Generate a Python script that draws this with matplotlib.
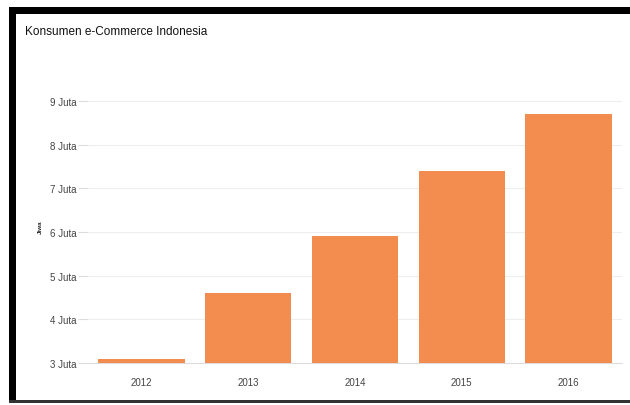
import matplotlib
matplotlib.use("Agg")
import matplotlib.pyplot as plt
from matplotlib.patches import Rectangle

years = ["2012", "2013", "2014", "2015", "2016"]
values = [3.1, 4.6, 5.9, 7.4, 8.7]
yticks = [3, 4, 5, 6, 7, 8, 9]
ytick_labels = ["3 Juta", "4 Juta", "5 Juta", "6 Juta", "7 Juta", "8 Juta", "9 Juta"]

W, H = 630, 406
fig = plt.figure(figsize=(W / 100, H / 100), dpi=100)
fig.patch.set_facecolor("white")

narrow = ["Liberation Sans", "DejaVu Sans"]

# frame
fig.patches.append(Rectangle((9 / W, 1 - 15 / H), (W - 9) / W, 7 / H, transform=fig.transFigure,
                             facecolor="black", edgecolor="none"))
fig.patches.append(Rectangle((9 / W, 1 - 404 / H), 7 / W, (404 - 8) / H, transform=fig.transFigure,
                             facecolor="black", edgecolor="none"))
fig.patches.append(Rectangle((9 / W, 1 - 404 / H), (W - 9) / W, 3 / H, transform=fig.transFigure,
                             facecolor="#333333", edgecolor="none"))

fig.text(25 / W, 1 - 32 / H, "Konsumen e-Commerce Indonesia", fontsize=8.5, color="#111111",
         family=narrow, va="center", ha="left")

ax = fig.add_axes([88 / W, 1 - 364 / H, (622 - 88) / W, (364 - 91) / H])
x = list(range(len(years)))
ax.bar(x, [v - 3 for v in values], bottom=3, width=0.81, color="#F28D4F", zorder=3)
ax.set_xlim(-0.5, 4.5)
ax.set_ylim(3, 9.25)
ax.set_yticks(yticks)
ax.set_yticklabels(ytick_labels, family=narrow, fontsize=7, color="#444444")
ax.set_xticks(x)
ax.set_xticklabels(years, family=narrow, fontsize=7, color="#444444")
ax.grid(axis="y", color="#eeeeee", linewidth=0.8, zorder=0)
for s in ["top", "right", "left"]:
    ax.spines[s].set_visible(False)
ax.spines["bottom"].set_color("#dddddd")
ax.tick_params(axis="y", length=7, color="#dddddd", pad=1)
ax.tick_params(axis="x", length=0, pad=10)
ax.set_ylabel("Jiwa", fontsize=4.5, fontweight="bold", family=narrow, labelpad=1, color="#222222")
ax.yaxis.set_label_coords(-0.085, 0.5)

fig.savefig("out.png", dpi=100, facecolor="white")
